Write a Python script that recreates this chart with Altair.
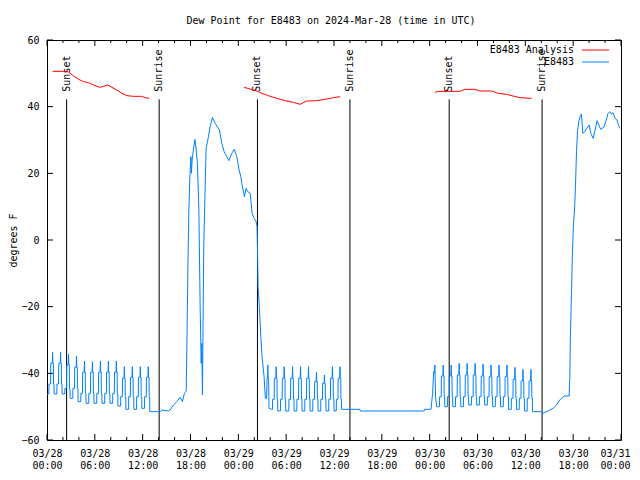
import json
import altair as alt
import pandas as pd

FONT = "DejaVu Sans Mono"
RED = "#ff0000"
BLUE = "#0080ff"

# ---------------- data ----------------
# time = hours after 2024-03-28 00:00 UTC, values in degrees F
x_tick_hours = [0, 6, 12, 18, 24, 30, 36, 42, 48, 54, 60, 66, 72]
x_tick_labels = [["03/28", "00:00"], ["03/28", "06:00"], ["03/28", "12:00"], ["03/28", "18:00"],
                 ["03/29", "00:00"], ["03/29", "06:00"], ["03/29", "12:00"], ["03/29", "18:00"],
                 ["03/30", "00:00"], ["03/30", "06:00"], ["03/30", "12:00"], ["03/30", "18:00"],
                 ["03/31", "00:00"]]
x_minor_hours = [2, 4, 8, 10, 14, 16, 20, 22, 26, 28, 32, 34, 38, 40, 44, 46, 50, 52, 56, 58, 62, 64, 68, 70]
y_tick_values = [-60, -40, -20, 0, 20, 40, 60]

sun_hours = [2.46, 14.07, 26.4, 38.0, 50.45, 62.1]
sun_labels = ["Sunset", "Sunrise", "Sunset", "Sunrise", "Sunset", "Sunrise"]

# E8483 Analysis (red), three separate pieces
ana1_t = [0.7, 2.51, 2.83, 3.33, 3.96, 4.59, 5.21, 5.84, 6.59, 7.09, 7.64, 8.15, 8.77, 9.4, 10.03, 10.85, 11.82, 12.32, 12.82]
ana1_v = [50.6, 50.6, 50.2, 49.2, 48.2, 47.5, 47.2, 46.5, 45.8, 46.1, 46.5, 45.8, 45.0, 44.0, 43.3, 43.1, 43.1, 42.7, 42.5]
ana2_t = [24.72, 25.48, 26.32, 26.94, 27.77, 28.82, 29.86, 30.9, 31.74, 32.58, 33.83, 35.09, 35.92, 36.75]
ana2_v = [45.8, 45.3, 44.7, 44.0, 43.3, 42.5, 41.8, 41.3, 40.7, 41.7, 41.8, 42.3, 42.7, 43.0]
ana3_t = [48.66, 49.07, 51.79, 52.42, 53.67, 54.3, 55.76, 56.59, 57.64, 58.47, 59.31, 60.78]
ana3_v = [44.3, 44.6, 44.6, 45.2, 45.2, 44.7, 44.7, 44.0, 43.7, 43.2, 42.7, 42.5]

# E8483 observations (blue): hourly spikes read per spike (peak time, peak, mid step, low step, base after)
r1_peak_t = [0.7, 1.7, 2.7, 3.7, 4.7, 5.7, 6.7, 7.7, 8.7, 9.7, 10.7, 11.7, 12.7]
r1_peak = [-33.7, -33.7, -34.2, -34.8, -36.3, -36.5, -36.3, -36.3, -36.3, -38.0, -38.0, -38.0, -38.0]
r1_mid = [-37.0, -37.0, -37.5, -38.2, -39.7, -39.7, -39.7, -39.7, -39.7, -41.5, -41.2, -41.2, -41.2]
r1_low = [-43.2, -43.2, -44.5, -44.5, -46.0, -46.0, -46.0, -46.0, -46.0, -47.0, -47.0, -47.0, -47.0]
r1_base = [-46.2, -46.2, -47.5, -48.5, -49.0, -49.0, -49.0, -49.0, -49.8, -50.8, -50.8, -50.5, -51.5]

r2_peak_t = [28.75, 29.75, 30.8, 31.8, 32.8, 33.8, 34.8, 35.8, 36.75]
r2_peak = [-38.0, -38.0, -38.0, -38.0, -38.0, -39.7, -40.5, -38.0, -38.0]
r2_mid = [-41.5, -41.5, -41.5, -41.5, -41.5, -42.5, -43.0, -41.5, -41.5]
r2_low = [-47.8, -47.8, -47.8, -47.8, -47.8, -47.8, -47.8, -47.8, -47.8]
r2_base = [-51.3, -51.3, -51.3, -51.3, -51.3, -51.3, -51.3, -51.3, -50.8]

r3_peak_t = [49.7, 50.7, 51.7, 52.7, 53.7, 54.7, 55.7, 56.7, 57.7, 58.7, 59.7, 60.7]
r3_peak = [-37.5, -37.5, -37.0, -37.0, -37.0, -37.2, -37.5, -37.5, -37.5, -38.2, -38.8, -38.8]
r3_mid = [-40.8, -40.8, -40.5, -40.5, -40.5, -40.8, -41.0, -41.0, -41.0, -41.8, -42.3, -42.3]
r3_low = [-47.0, -47.0, -47.0, -47.0, -47.0, -47.0, -47.0, -47.0, -47.0, -47.5, -47.5, -47.5]
r3_base = [-50.0, -50.0, -50.0, -49.5, -49.5, -49.5, -50.0, -50.0, -50.8, -50.8, -51.3, -51.5]

obs_start_t = [0.0]
obs_start_v = [-46.2]
obs_day1_t = [13.0, 14.2, 14.41, 15.24, 15.45, 15.86, 16.29, 16.7, 16.99, 17.24, 17.46, 17.54, 17.67, 17.79,
              17.92, 18.05, 18.12, 18.2, 18.37, 18.55, 18.67, 18.87, 19.05, 19.21, 19.34, 19.42, 19.5, 19.59,
              19.67, 19.84, 19.96, 20.25, 20.46, 20.75, 21.09, 21.63, 21.93, 22.22, 22.81, 23.18, 23.47,
              23.81, 24.1, 24.31, 24.51, 24.76, 24.97, 25.19, 25.48, 25.73, 25.98, 26.23, 26.35, 26.39,
              26.48, 26.64, 26.82, 26.98, 27.23, 27.39, 27.55, 27.6, 27.66, 27.7, 27.74, 27.8, 27.85, 28.2]
obs_day1_v = [-51.5, -51.5, -51.0, -51.3, -51.0, -49.5, -48.5, -47.2, -48.5, -46.0, -45.3, -33.0, -9.0, 8.5,
              19.0, 25.0, 20.0, 24.0, 27.0, 30.2, 28.0, 23.0, 9.0, -20.0, -37.0, -31.0, -46.5, -21.0,
              -1.0, 16.0, 27.5, 31.0, 34.0, 36.8, 35.0, 33.0, 29.0, 26.5, 23.8, 26.0, 27.2,
              25.0, 21.0, 19.0, 16.0, 13.0, 15.5, 14.5, 14.0, 8.0, 6.5, 5.5, 4.0, -1.0,
              -14.0, -20.0, -29.0, -35.0, -41.0, -47.5, -47.5, -41.5, -41.5, -37.5, -41.5, -41.5, -50.5, -50.8]
obs_day2_t = [39.26, 39.3, 47.3, 47.35, 48.16, 48.25, 48.37, 48.5, 48.55, 48.66, 48.74, 48.87, 49.1]
obs_day2_v = [-50.8, -51.3, -51.3, -50.8, -50.8, -48.7, -46.0, -39.5, -40.0, -37.5, -46.9, -50.0, -50.0]
obs_day3_t = [61.0, 61.9, 62.23, 63.07, 63.48, 63.91, 64.32, 64.74, 64.95, 65.49, 65.58, 65.66, 65.79, 65.91,
              66.04, 66.17, 66.29, 66.42, 66.54, 66.7, 66.87, 67.04, 67.21, 67.46, 67.71, 68.0, 68.21, 68.5,
              68.75, 69.0, 69.21, 69.46, 69.84, 70.09, 70.38, 70.59, 70.8, 71.0, 71.25, 71.5, 71.75, 71.84]
obs_day3_v = [-51.5, -51.5, -52.0, -51.0, -50.5, -49.5, -48.0, -47.0, -46.8, -46.8, -41.0, -28.0, -16.0, -3.5,
              5.0, 9.0, 16.0, 26.5, 32.5, 35.5, 37.0, 37.8, 32.0, 32.5, 33.5, 34.5, 32.0, 30.5,
              33.0, 35.8, 34.5, 33.2, 33.8, 35.5, 38.0, 38.5, 37.8, 38.2, 36.5, 36.0, 34.0, 33.5]

legend_names = ["E8483 Analysis", "E8483"]
legend_colors = [RED, BLUE]


# ---------------- build tables ----------------
def spikes(peak_t, peak, mid, low, base, before):
    ts, vs = [], []
    prev = before
    for P, K, M, L, B in zip(peak_t, peak, mid, low, base):
        ts += [P - 0.47, P - 0.45, P - 0.25, P - 0.23, P - 0.04, P, P + 0.04, P + 0.10, P + 0.12, P + 0.18, P + 0.20]
        vs += [prev, L, L, M, M, K, M, M, L, L, B]
        prev = B
    return ts, vs


s1t, s1v = spikes(r1_peak_t, r1_peak, r1_mid, r1_low, r1_base, obs_start_v[-1])
s2t, s2v = spikes(r2_peak_t, r2_peak, r2_mid, r2_low, r2_base, obs_day1_v[-1])
s3t, s3v = spikes(r3_peak_t, r3_peak, r3_mid, r3_low, r3_base, obs_day2_v[-1])
obs_t = obs_start_t + s1t + obs_day1_t + s2t + obs_day2_t + s3t + obs_day3_t
obs_v = obs_start_v + s1v + obs_day1_v + s2v + obs_day2_v + s3v + obs_day3_v
obs_df = pd.DataFrame({"t": obs_t, "v": obs_v, "i": list(range(len(obs_t)))})

ana_df = pd.DataFrame({
    "t": ana1_t + ana2_t + ana3_t,
    "v": ana1_v + ana2_v + ana3_v,
    "seg": [1] * len(ana1_t) + [2] * len(ana2_t) + [3] * len(ana3_t),
})

sun_df = pd.DataFrame({"t": sun_hours, "label": sun_labels, "top": [42.2] * 6, "bot": [-60] * 6, "ly": [44.5] * 6})

major_df = pd.DataFrame({"t": x_tick_hours})
minor_df = pd.DataFrame({"t": x_minor_hours})
ytick_df = pd.DataFrame({"v": y_tick_values})
one = pd.DataFrame({"a": [0]})

W, H = 574, 400
label_expr = json.dumps(x_tick_labels) + "[round(datum.value / 6)]"

X = alt.X("t:Q", scale=alt.Scale(domain=[0, 72], nice=False, zero=False),
          axis=alt.Axis(values=x_tick_hours, labelExpr=label_expr, ticks=False, domain=False, grid=False,
                        labelPadding=8, labelLineHeight=12, labelFont=FONT, labelFontSize=10,
                        labelColor="black", labelAngle=0, labelFlush=False, labelOverlap=False, title=None,
                        labelOffset={"condition": {"test": "datum.value >= 72", "value": -6}, "value": 0}))


def Y(field):
    return alt.Y(field, scale=alt.Scale(domain=[-60, 60], nice=False, zero=False),
                 axis=alt.Axis(values=y_tick_values, ticks=False, domain=False, grid=False,
                               labelPadding=8, labelFont=FONT, labelFontSize=10, labelColor="black",
                               title="degrees F", titleFont=FONT, titleFontSize=10, titleFontWeight="normal",
                               titleColor="black", titleAngle=270, titleAlign="center",
                               titleBaseline="middle", titleX=-34, titleY=H / 2))


sun_rules = alt.Chart(sun_df).mark_rule(color="black", strokeWidth=1).encode(x=X, y=Y("top:Q"), y2="bot:Q")
sun_text = alt.Chart(sun_df).mark_text(angle=270, align="left", baseline="middle", font=FONT,
                                       fontSize=10, color="black").encode(x=X, y=Y("ly:Q"), text="label:N")
red_line = alt.Chart(ana_df).mark_line(color=RED, strokeWidth=1).encode(x=X, y=Y("v:Q"), detail="seg:N")
blue_line = alt.Chart(obs_df).mark_line(color=BLUE, strokeWidth=1).encode(x=X, y=Y("v:Q"), order="i:Q")

MAJ, MIN = 6, 3
ticks = [
    alt.Chart(major_df).mark_rule(color="black").encode(x=X, y=alt.value(H), y2=alt.value(H - MAJ)),
    alt.Chart(major_df).mark_rule(color="black").encode(x=X, y=alt.value(0), y2=alt.value(MAJ)),
    alt.Chart(minor_df).mark_rule(color="black").encode(x=X, y=alt.value(H), y2=alt.value(H - MIN)),
    alt.Chart(minor_df).mark_rule(color="black").encode(x=X, y=alt.value(0), y2=alt.value(MIN)),
    alt.Chart(ytick_df).mark_rule(color="black").encode(y=Y("v:Q"), x=alt.value(0), x2=alt.value(MAJ)),
    alt.Chart(ytick_df).mark_rule(color="black").encode(y=Y("v:Q"), x=alt.value(W), x2=alt.value(W - MAJ)),
]

legend = []
for k, (name, col) in enumerate(zip(legend_names, legend_colors)):
    ly = 10 + 12 * k
    legend.append(alt.Chart(one).mark_text(align="right", baseline="middle", font=FONT, fontSize=10,
                                           color="black", text=name).encode(x=alt.value(527), y=alt.value(ly)))
    legend.append(alt.Chart(one).mark_rule(color=col, strokeWidth=1).encode(
        x=alt.value(535), x2=alt.value(562), y=alt.value(ly)))

chart = alt.layer(sun_rules, sun_text, red_line, blue_line, *ticks, *legend).properties(
    width=W, height=H,
    title=alt.TitleParams("Dew Point for E8483 on 2024-Mar-28 (time in UTC)", font=FONT, fontSize=10,
                          fontWeight="normal", color="black", anchor="middle", offset=9, dx=-3),
    autosize=alt.AutoSizeParams(type="none"),
    padding={"left": 39, "top": 32, "right": 11, "bottom": 32},
    background="white",
).configure_view(stroke="black", strokeWidth=1)

chart.save("out.html", embed_options={"renderer": "svg", "actions": False})
